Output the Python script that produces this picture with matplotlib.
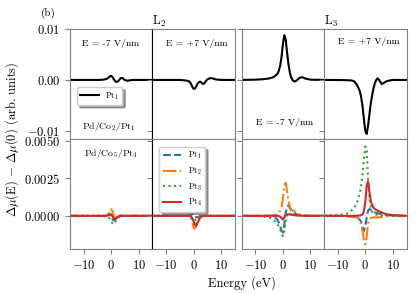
import numpy as np
import matplotlib
matplotlib.use('Agg')
import matplotlib.pyplot as plt
from matplotlib.gridspec import GridSpec

# données (valeurs en 1e-3, unités arbitraires)
energie = [-15, -10, -7, -5, -4, -3, -2, -1.5, -1, -0.5, 0, 0.5, 1, 1.5, 2, 2.5,
           3, 3.5, 4, 4.5, 5, 6, 7, 8, 10, 15]

# ligne du haut : Pd/Co2/Pt1
haut_L2_moins = [0, 0, 0, 0, 0, 0.05, 0.15, 0.25, 0.45, 0.7, 0.8, 0.55, 0.1, -0.3, -0.4, -0.25,
                 0.05, 0.35, 0.4, 0.2, -0.05, -0.15, -0.05, 0, 0, 0]
haut_L2_plus = [0, 0, 0, 0, -0.05, -0.1, -0.2, -0.35, -0.7, -1.3, -1.75, -1.7, -1.2, -0.7, -0.4, -0.35,
                -0.6, -0.8, -0.6, -0.2, 0.1, 0.35, 0.3, 0.1, 0, 0]
haut_L3_moins = [0, 0.05, 0.15, 0.3, 0.45, 0.7, 1.2, 1.8, 2.8, 4.5, 7.0, 8.8, 8.0, 5.5, 3.2, 1.5,
                 0.5, 0.0, -0.25, -0.3, -0.1, 0.4, 0.55, 0.3, 0.05, 0]
haut_L3_plus = [0, -0.02, -0.05, -0.1, -0.3, -1.0, -2.2, -3.4, -5.2, -7.8, -10.0, -10.6, -9.0, -6.8, -4.6, -3.0,
                -1.6, -0.6, 0.0, 0.3, 0.0, -0.8, -0.5, -0.2, 0, 0]

# ligne du bas : Pd/Co5/Pt4, couches Pt1..Pt4
bas_L2_moins = [
    [0, 0, 0, 0, 0, 0, 0, 0.02, 0.05, 0.05, -0.1, -0.25, -0.3, -0.2, -0.1, -0.05, 0, 0, 0, 0, 0, 0, 0, 0, 0, 0],
    [0, 0, 0, 0, 0, 0, 0, 0.05, 0.15, 0.35, 0.45, 0.3, 0.0, -0.15, -0.15, -0.05, 0.05, 0.05, 0, 0, 0, 0, 0, 0, 0, 0],
    [0, 0, 0, 0, 0, 0, -0.05, -0.08, -0.12, -0.2, -0.35, -0.5, -0.55, -0.4, -0.25, -0.15, -0.05, 0, 0, 0, 0, 0, 0, 0, 0, 0],
    [0, 0, 0, 0, 0, 0, 0, 0.02, 0.05, 0.1, 0.1, -0.05, -0.2, -0.22, -0.15, -0.05, 0, 0, 0, 0, 0, 0, 0, 0, 0, 0],
]
bas_L2_plus = [
    [0, 0, 0, 0, 0, 0, 0, 0.02, 0.05, 0.1, 0.1, 0, -0.1, -0.1, -0.05, 0, 0, 0, 0, 0, 0, 0, 0, 0, 0, 0],
    [0, 0, 0, 0, 0, 0, -0.05, -0.08, -0.15, -0.4, -0.8, -0.85, -0.6, -0.3, -0.15, -0.1, -0.05, 0, 0, 0, 0, 0, 0, 0, 0, 0],
    [0, 0, 0, 0, 0, 0, 0, 0, -0.05, -0.15, -0.3, -0.3, -0.2, -0.1, -0.05, 0, 0, 0, 0, 0, 0, 0, 0, 0, 0, 0],
    [0, 0, 0, 0, 0, 0, 0, 0, -0.05, -0.15, -0.35, -0.6, -0.65, -0.45, -0.25, -0.1, -0.05, 0, 0, 0, 0, 0, 0, 0, 0, 0],
]
bas_L3_moins = [
    [0, 0, 0, 0, -0.05, -0.1, -0.25, -0.45, -0.7, -1.0, -1.1, -0.6, 0.2, 0.6, 0.7, 0.55, 0.35, 0.25, 0.2, 0.15, 0.1, 0.05, 0.03, 0.02, 0, 0],
    [0, 0, 0, 0.02, 0.03, 0.05, 0.1, 0.2, 0.35, 0.6, 1.2, 2.0, 2.2, 1.7, 1.0, 0.65, 0.45, 0.35, 0.3, 0.25, 0.2, 0.1, 0.05, 0.03, 0, 0],
    [0, -0.02, -0.05, -0.1, -0.2, -0.35, -0.55, -0.7, -0.9, -1.15, -1.35, -1.0, -0.3, 0.1, 0.2, 0.15, 0.1, 0.08, 0.05, 0.04, 0.03, 0.02, 0.01, 0, 0, 0],
    [0, 0, 0, 0, 0, 0, 0, -0.02, -0.05, -0.15, -0.25, -0.1, 0.05, 0.1, 0.1, 0.09, 0.08, 0.06, 0.05, 0.04, 0.03, 0.02, 0.01, 0, 0, 0],
]
bas_L3_plus = [
    [0, 0, -0.02, -0.05, -0.07, -0.1, -0.25, -0.4, -0.75, -1.0, -0.7, -0.1, 0.35, 0.45, 0.4, 0.3, 0.25, 0.22, 0.2, 0.17, 0.15, 0.1, 0.07, 0.05, 0.02, 0],
    [0, 0, -0.02, -0.05, -0.07, -0.1, -0.3, -0.5, -1.0, -1.6, -1.9, -1.4, -0.5, -0.2, -0.15, -0.12, -0.1, -0.1, -0.1, -0.1, -0.1, -0.08, -0.05, -0.03, 0, 0],
    [0.02, 0.05, 0.12, 0.35, 0.55, 0.85, 1.5, 2.0, 2.8, 3.8, 4.6, 4.4, 2.5, 1.2, 0.5, 0.25, 0.15, 0.1, 0.08, 0.06, 0.05, 0.03, 0.02, 0.01, 0, 0],
    [0, 0, 0, 0, 0, 0.01, 0.02, 0.05, 0.1, 0.3, 0.9, 2.0, 2.3, 1.6, 1.0, 0.7, 0.55, 0.45, 0.4, 0.35, 0.3, 0.22, 0.15, 0.1, 0.05, 0],
]

couches = ['Pt$_1$', 'Pt$_2$', 'Pt$_3$', 'Pt$_4$']
couleurs = ['#1f77b4', '#ff7f0e', '#2ca02c', '#d62728']
styles = ['--', '-.', ':', '-']

plt.rcParams['font.family'] = 'serif'
plt.rcParams['font.serif'] = ['cmr10']
plt.rcParams['mathtext.fontset'] = 'cm'
plt.rcParams['axes.formatter.use_mathtext'] = True
plt.rcParams['axes.edgecolor'] = 'grey'
plt.rcParams['xtick.color'] = 'grey'
plt.rcParams['ytick.color'] = 'grey'
plt.rcParams['xtick.labelcolor'] = 'black'
plt.rcParams['ytick.labelcolor'] = 'black'
plt.rcParams['xtick.labelsize'] = 9
plt.rcParams['ytick.labelsize'] = 9

E = np.array(energie)
fig = plt.figure(figsize=(4.15, 2.94), dpi=100)
gs = GridSpec(2, 5, figure=fig, width_ratios=[1, 1, 0.084, 1, 1],
              left=70/415, right=406.5/415, top=1-29/294, bottom=1-249/294,
              wspace=0, hspace=0)
colonnes = [0, 1, 3, 4]
axes = [[None]*4 for _ in range(2)]
for r in range(2):
    for i, c in enumerate(colonnes):
        share = axes[r][0] if i > 0 else None
        axes[r][i] = fig.add_subplot(gs[r, c], sharey=share)

haut = [haut_L2_moins, haut_L2_plus, haut_L3_moins, haut_L3_plus]
bas = [bas_L2_moins, bas_L2_plus, bas_L3_moins, bas_L3_plus]

for i in range(4):
    ax = axes[0][i]
    ax.plot(E, np.array(haut[i])*1e-3, color='black', lw=1.5, label='Pt$_1$')
    ax.set_xlim(-15, 15)
    ax.set_ylim(-0.0116, 0.010)
    ax.set_yticks([-0.01, 0, 0.01])
    ax.set_xticks([-10, 0, 10])
    ax.tick_params(labelbottom=False, labelleft=(i == 0))

    ax = axes[1][i]
    for k in range(4):
        ax.plot(E, np.array(bas[i][k])*1e-3, color=couleurs[k], ls=styles[k], lw=1.5, label=couches[k])
    ax.set_xlim(-15, 15)
    ax.set_ylim(-0.0022, 0.0051)
    ax.set_yticks([0, 0.0025, 0.005])
    ax.set_xticks([-10, 0, 10])
    ax.tick_params(labelleft=(i == 0))

# séparateur noir entre les deux champs du seuil L2
for r in range(2):
    axes[r][0].spines['right'].set_color('black')
    axes[r][1].spines['left'].set_color('black')

# textes
ft = 7
axes[0][0].text(0.142, 0.87, 'E = -7 V/nm', transform=axes[0][0].transAxes, fontsize=ft, va='center')
axes[0][1].text(0.167, 0.87, 'E = +7 V/nm', transform=axes[0][1].transAxes, fontsize=ft, va='center')
axes[0][2].text(0.176, 0.148, 'E = -7 V/nm', transform=axes[0][2].transAxes, fontsize=ft, va='center')
axes[0][3].text(0.174, 0.885, 'E = +7 V/nm', transform=axes[0][3].transAxes, fontsize=ft, va='center')
axes[0][0].text(0.142, 0.11, 'Pd/Co$_2$/Pt$_1$', transform=axes[0][0].transAxes, fontsize=ft, va='center')
axes[1][0].text(0.17, 0.87, 'Pd/Co$_5$/Pt$_4$', transform=axes[1][0].transAxes, fontsize=ft, va='center')

axes[0][1].set_title('L$_2$', loc='left', fontsize=9, pad=3)
axes[0][3].set_title('L$_3$', loc='left', fontsize=9, pad=3)

axes[0][0].legend(loc='upper left', bbox_to_anchor=(0.085, 0.473), borderaxespad=0,
                  fontsize=6, shadow=True, handlelength=2.2)
axes[1][1].legend(loc='upper left', bbox_to_anchor=(0.085, 0.93), borderaxespad=0,
                  fontsize=6, shadow=True, handlelength=2.2)

fig.text(48/415, 1-13/294, '(b)', fontsize=8, ha='center', va='center')
fig.text(12/415, 1-139/294, r'$\Delta\mu$(E) $-$ $\Delta\mu$(0) (arb. units)',
         rotation=90, fontsize=9, ha='center', va='center')
fig.text(242/415, 1-283/294, 'Energy (eV)', fontsize=9, ha='center', va='center')

fig.savefig('out.png', dpi=100)
